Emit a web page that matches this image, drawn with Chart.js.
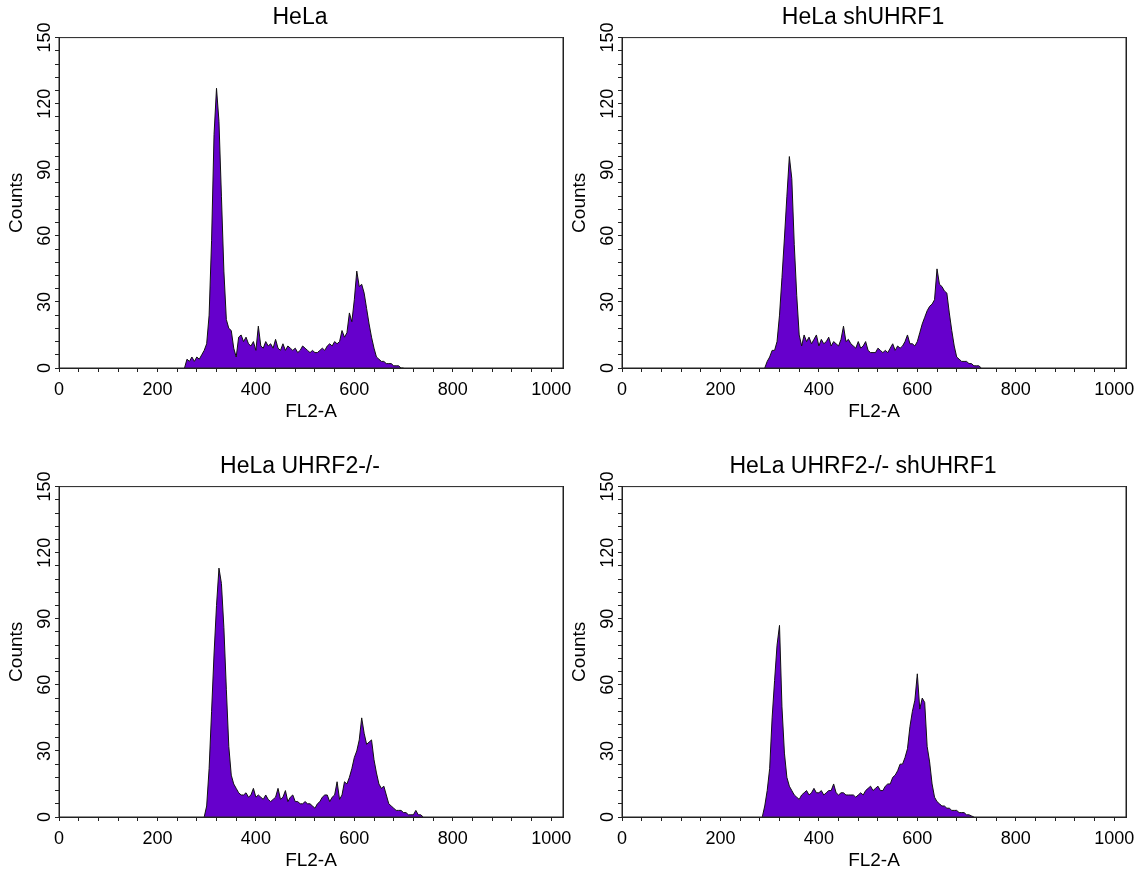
<!DOCTYPE html>
<html>
<head>
<meta charset="utf-8">
<title>Cell cycle histograms</title>
<script src="https://cdn.jsdelivr.net/npm/chart.js"></script>
<style>
    html, body { margin: 0; padding: 0; background: #fff; overflow: hidden; }
    #figure { position: relative; width: 1141px; height: 871px; overflow: hidden; }
    #figure canvas { position: absolute; }
</style>
</head>
<body>
<div id="figure">
    <canvas id="panel-hela" width="600" height="430" style="left:0;top:0"></canvas>
    <canvas id="panel-hela-sh" width="600" height="430" style="left:563px;top:0"></canvas>
    <canvas id="panel-uhrf2" width="600" height="430" style="left:0;top:449px"></canvas>
    <canvas id="panel-uhrf2-sh" width="600" height="430" style="left:563px;top:449px"></canvas>
</div>
<script>
// each histogram: FL2-A channel of its first bin, then counts per bin
const binWidth = 5;

const helaStart = 255;
const helaCounts = [
    0, 4, 3, 5, 3, 5, 4, 6, 8, 11,
    24, 58, 106, 127, 112, 78, 44, 22, 18, 17,
    9, 5, 14, 15, 12, 14, 11, 10, 12, 8,
    19, 10, 9, 12, 10, 11, 9, 13, 9, 8,
    11, 8, 10, 9, 8, 9, 7, 8, 10, 9,
    8, 7, 8, 7, 7, 8, 9, 8, 10, 11,
    10, 12, 11, 12, 17, 14, 16, 25, 21, 31,
    44, 37, 38, 34, 27, 20, 14, 9, 5, 4,
    3, 3, 2, 2, 2, 1, 1, 1, 0, 0
];

const helaShStart = 290;
const helaShCounts = [
    0, 3, 5, 8, 8, 12, 24, 41, 59, 78,
    96, 86, 56, 33, 15, 10, 15, 12, 14, 11,
    13, 15, 10, 13, 11, 12, 14, 10, 12, 11,
    10, 13, 19, 12, 13, 11, 10, 9, 12, 9,
    10, 12, 8, 7, 7, 7, 9, 8, 7, 8,
    7, 9, 11, 8, 10, 9, 10, 12, 15, 11,
    11, 10, 12, 16, 20, 23, 26, 28, 29, 31,
    45, 38, 37, 35, 34, 25, 17, 10, 5, 4,
    3, 3, 3, 2, 2, 1, 1, 1, 0
];

const uhrf2Start = 295;
const uhrf2Counts = [
    0, 5, 22, 48, 74, 96, 113, 106, 86, 58,
    32, 19, 15, 13, 11, 10, 10, 11, 9, 10,
    13, 9, 10, 9, 8, 10, 8, 7, 8, 9,
    13, 8, 9, 12, 7, 9, 10, 7, 7, 6,
    6, 7, 6, 6, 5, 4, 6, 7, 9, 10,
    10, 7, 9, 10, 16, 8, 10, 16, 15, 18,
    22, 27, 30, 35, 45, 38, 33, 34, 35, 26,
    20, 15, 13, 14, 10, 6, 5, 4, 3, 3,
    3, 2, 2, 1, 1, 1, 3, 1, 1, 0
];

const uhrf2ShStart = 285;
const uhrf2ShCounts = [
    0, 5, 12, 22, 45, 62, 78, 87, 50, 29,
    18, 14, 12, 10, 9, 8, 10, 11, 12, 10,
    11, 13, 11, 11, 12, 10, 11, 12, 12, 15,
    11, 10, 11, 11, 10, 10, 10, 10, 9, 10,
    11, 10, 12, 13, 14, 12, 13, 14, 12, 12,
    14, 15, 15, 18, 19, 21, 24, 24, 27, 31,
    41, 48, 53, 65, 49, 54, 52, 32, 25, 15,
    9, 7, 6, 5, 5, 4, 4, 3, 3, 3,
    2, 2, 2, 1, 1, 0.5, 0
];

const panelTitles = ['HeLa', 'HeLa shUHRF1', 'HeLa UHRF2-/-', 'HeLa UHRF2-/- shUHRF1'];
const xTickLabels = [0, 200, 400, 600, 800, 1000];
const yTickLabels = [0, 30, 60, 90, 120, 150];

const FONT = "Arial, 'Liberation Sans', Helvetica, sans-serif";
const FILL = 'rgb(102, 0, 204)';
const AXIS = '#222';

// closes the box on the top and right side of the plot area
const framePlugin = {
    id: 'frame',
    afterDraw(chart) {
        const { ctx, chartArea: a } = chart;
        ctx.save();
        ctx.strokeStyle = AXIS;
        ctx.lineWidth = 1;
        ctx.strokeRect(a.left, a.top, a.right - a.left, a.bottom - a.top);
        ctx.restore();
    }
};

class FlowHistogram {
    constructor(canvasId, title, start, counts) {
        this.canvas = document.getElementById(canvasId);
        if (!this.canvas) {
            console.error('Canvas not found:', canvasId);
            return;
        }
        const points = counts.map((y, i) => ({ x: start + i * binWidth, y: y }));
        this.chart = new Chart(this.canvas, this.buildConfig(title, points));
    }

    axisGrid() {
        return {
            drawOnChartArea: false,
            drawTicks: true,
            tickLength: 4,
            tickColor: AXIS,
            tickWidth: 1
        };
    }

    buildConfig(title, points) {
        return {
            type: 'line',
            data: {
                datasets: [{
                    data: points,
                    fill: 'origin',
                    backgroundColor: FILL,
                    borderColor: '#111',
                    borderWidth: 1,
                    pointRadius: 0,
                    tension: 0
                }]
            },
            options: {
                responsive: false,
                animation: false,
                events: [],
                layout: { padding: { left: 0, right: 0, top: 0, bottom: 7 } },
                plugins: {
                    legend: { display: false },
                    tooltip: { enabled: false },
                    title: {
                        display: true,
                        text: title,
                        color: '#000',
                        font: { family: FONT, size: 23, weight: 'normal' },
                        padding: { top: 4, bottom: 6 }
                    }
                },
                scales: {
                    x: {
                        type: 'linear',
                        min: 0,
                        max: 1024,
                        afterFit: (scale) => { scale.height = 55; },
                        grid: this.axisGrid(),
                        border: { display: true, color: AXIS, width: 1 },
                        ticks: {
                            stepSize: 40,
                            includeBounds: false,
                            autoSkip: false,
                            minRotation: 0,
                            maxRotation: 0,
                            padding: 7,
                            color: '#000',
                            font: { family: FONT, size: 18 },
                            callback: (v) => xTickLabels.includes(v) ? String(v) : ''
                        },
                        title: {
                            display: true,
                            text: 'FL2-A',
                            color: '#000',
                            font: { family: FONT, size: 19 },
                            padding: { top: 0, bottom: 0 }
                        }
                    },
                    y: {
                        min: 0,
                        max: 150,
                        afterFit: (scale) => { scale.width = 59; },
                        grid: this.axisGrid(),
                        border: { display: true, color: AXIS, width: 1 },
                        ticks: {
                            stepSize: 6,
                            autoSkip: false,
                            minRotation: 90,
                            maxRotation: 90,
                            crossAlign: 'center',
                            padding: -5.5,
                            color: '#000',
                            font: { family: FONT, size: 18 },
                            callback: (v) => yTickLabels.includes(v) ? String(v) : ''
                        },
                        title: {
                            display: true,
                            text: 'Counts',
                            color: '#000',
                            font: { family: FONT, size: 19 },
                            padding: { top: 5.6, bottom: 0 }
                        }
                    },
                    // empty box on the right so the full-width title sits where the original has it
                    yRight: {
                        position: 'right',
                        min: 0,
                        max: 150,
                        afterFit: (scale) => { scale.width = 37; },
                        grid: { display: false },
                        ticks: { display: false },
                        border: { display: true, color: AXIS, width: 1 }
                    }
                }
            },
            plugins: [framePlugin]
        };
    }
}

new FlowHistogram('panel-hela', panelTitles[0], helaStart, helaCounts);
new FlowHistogram('panel-hela-sh', panelTitles[1], helaShStart, helaShCounts);
new FlowHistogram('panel-uhrf2', panelTitles[2], uhrf2Start, uhrf2Counts);
new FlowHistogram('panel-uhrf2-sh', panelTitles[3], uhrf2ShStart, uhrf2ShCounts);
</script>
</body>
</html>
